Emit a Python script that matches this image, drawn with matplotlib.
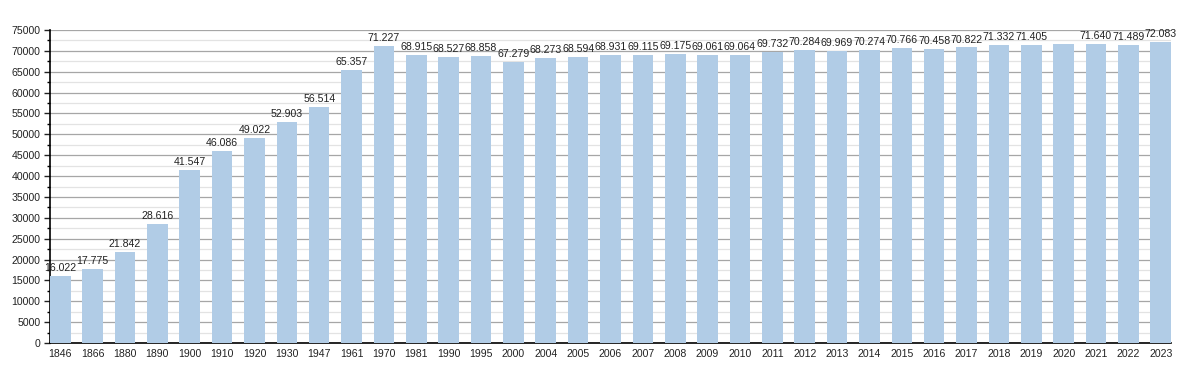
import matplotlib
matplotlib.use("Agg")
import matplotlib.pyplot as plt
from matplotlib.ticker import MultipleLocator

years = ["1846", "1866", "1880", "1890", "1900", "1910", "1920", "1930", "1947", "1961",
         "1970", "1981", "1990", "1995", "2000", "2004", "2005", "2006", "2007", "2008",
         "2009", "2010", "2011", "2012", "2013", "2014", "2015", "2016", "2017", "2018",
         "2019", "2020", "2021", "2022", "2023"]
population = [16022, 17775, 21842, 28616, 41547, 46086, 49022, 52903, 56514, 65357,
              71227, 68915, 68527, 68858, 67279, 68273, 68594, 68931, 69115, 69175,
              69061, 69064, 69732, 70284, 69969, 70274, 70766, 70458, 70822, 71332,
              71405, 71550, 71640, 71489, 72083]
hidden_labels = ["2020"]

plt.rcParams['font.family'] = ['Liberation Sans', 'DejaVu Sans']

fig = plt.figure(figsize=(12, 3.73), dpi=100)
ax = fig.add_axes([50 / 1200, 1 - 343 / 373, 1121 / 1200, 313 / 373])

bw = 0.635
x = list(range(len(years)))
bars = ax.bar(x, population, width=bw, color="#b1cce6", zorder=3)

for xi, yr, v in zip(x, years, population):
    if yr in hidden_labels:
        continue
    ax.text(xi, v + 700, f"{v:,}".replace(",", "."), ha="center", va="bottom",
            fontsize=7.6, color="#222222", zorder=4)

ax.set_xlim(-bw / 2, len(years) - 1 + bw / 2)
ax.set_ylim(0, 75000)
ax.set_xticks(x)
ax.set_xticklabels(years)
ax.yaxis.set_major_locator(MultipleLocator(5000))
ax.yaxis.set_minor_locator(MultipleLocator(2500))
ax.grid(axis="y", which="major", color="#a6a6a6", linewidth=0.9, zorder=1)
ax.grid(axis="y", which="minor", color="#e3e3e3", linewidth=0.9, zorder=1)

for s in ["top", "right"]:
    ax.spines[s].set_visible(False)
ax.spines["left"].set_linewidth(1.2)
ax.spines["bottom"].set_linewidth(1.2)
ax.tick_params(axis="x", length=0, labelsize=7.6, pad=4, colors="#222222")
ax.tick_params(axis="y", which="major", length=4, width=1, labelsize=7.6, pad=3, colors="#222222")
ax.tick_params(axis="y", which="minor", length=2.5, width=1)

fig.savefig("out.png", dpi=100)
